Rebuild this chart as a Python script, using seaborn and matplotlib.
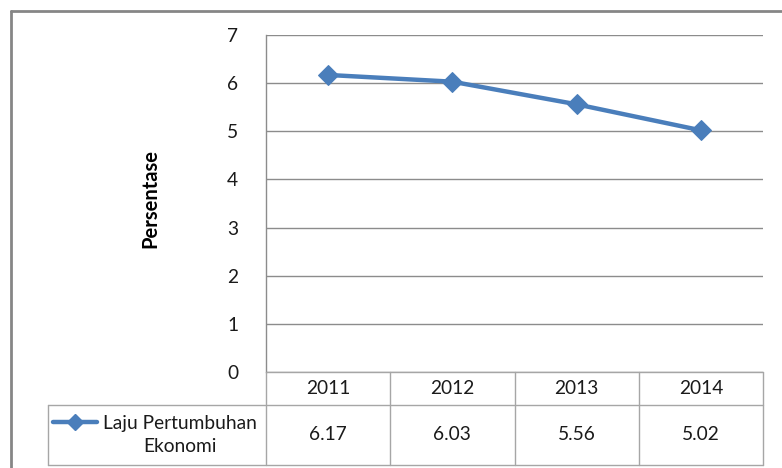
import matplotlib
matplotlib.use("Agg")
import matplotlib.pyplot as plt
from matplotlib.lines import Line2D
from matplotlib.transforms import blended_transform_factory
import seaborn as sns
import pandas as pd

# Economic growth rate by year
years = ["2011", "2012", "2013", "2014"]
growth = [6.17, 6.03, 5.56, 5.02]
series_name = "Laju Pertumbuhan\nEkonomi"
y_label = "Persentase"
y_ticks = [0, 1, 2, 3, 4, 5, 6, 7]

sns.set_style("white")
plt.rcParams["font.family"] = ["Lato", "DejaVu Sans"]

W, H = 782, 468
fig = plt.figure(figsize=(W / 100, H / 100), dpi=100)

def fx(px):
    return px / W

def fy(py):
    return 1 - py / H

FS = 13.8
TXT = "#1a1a1a"

# plot area
ax = fig.add_axes([fx(266), fy(372), fx(763) - fx(266), fy(35) - fy(372)])

df = pd.DataFrame({"Tahun": years, "Nilai": growth})
line_color = "#4A7EBB"
sns.lineplot(data=df, x="Tahun", y="Nilai", ax=ax, color=line_color,
             linewidth=3.2, marker="D", markersize=10,
             markeredgecolor=line_color, markerfacecolor=line_color, sort=False)

ax.set_xlim(-0.5, len(years) - 0.5)
ax.set_ylim(0, 7)
ax.set_yticks(y_ticks)
ax.set_yticklabels([str(t) for t in y_ticks], fontsize=FS, color=TXT)
ax.tick_params(axis="y", length=0, pad=20)
ax.set_xticks([])
ax.set_xlabel("")
ax.set_ylabel("")
ax.grid(axis="y", color="#8c8c8c", linewidth=1.0)
ax.set_axisbelow(True)
for side in ["top", "right", "bottom"]:
    ax.spines[side].set_visible(False)
ax.spines["left"].set_color("#8c8c8c")
ax.spines["left"].set_linewidth(1.0)

fig.text(fx(150), fy(198), y_label, rotation=90, ha="center", va="center",
         fontsize=14.5, fontweight="bold", color="black")

# data table below the plot
grid_c = "#a6a6a6"
tb = blended_transform_factory(ax.transData, fig.transFigure)
y_top, y_mid, y_bot = fy(372), fy(405), fy(465)
x_left = fx(48)

def fig_line(xs, ys, **kw):
    fig.add_artist(Line2D(xs, ys, transform=fig.transFigure, color=grid_c,
                          linewidth=1.0, **kw))

fig_line([fx(266), fx(763)], [y_top, y_top])
fig_line([x_left, fx(763)], [y_mid, y_mid])
fig_line([x_left, fx(763)], [y_bot, y_bot])
fig_line([x_left, x_left], [y_mid, y_bot])
for i in range(len(years) + 1):
    fig.add_artist(Line2D([i - 0.5, i - 0.5], [y_top, y_bot], transform=tb,
                          color=grid_c, linewidth=1.0))

for i, (yr, v) in enumerate(zip(years, growth)):
    fig.text(i, (y_top + y_mid) / 2, yr, transform=tb, ha="center",
             va="center", fontsize=FS, color=TXT)
    fig.text(i, (y_mid + y_bot) / 2, f"{v:.2f}", transform=tb, ha="center",
             va="center", fontsize=FS, color=TXT)

# legend key in the table's first column
key_y = fy(422)
fig.add_artist(Line2D([fx(53), fx(97)], [key_y, key_y], transform=fig.transFigure,
                      color=line_color, linewidth=3.2))
fig.add_artist(Line2D([fx(75)], [key_y], transform=fig.transFigure,
                      color=line_color, marker="D", markersize=8, linestyle="none"))
fig.text(fx(180), fy(435), series_name, ha="center", va="center",
         multialignment="center", fontsize=FS, color=TXT, linespacing=1.45)

# chart border
border_c = "#868686"
fig.add_artist(Line2D([fx(11), 1], [fy(11), fy(11)], transform=fig.transFigure,
                      color=border_c, linewidth=2.0))
fig.add_artist(Line2D([fx(11), fx(11)], [fy(11), 0], transform=fig.transFigure,
                      color=border_c, linewidth=2.0))

fig.savefig("out.png", dpi=100, facecolor="white")
